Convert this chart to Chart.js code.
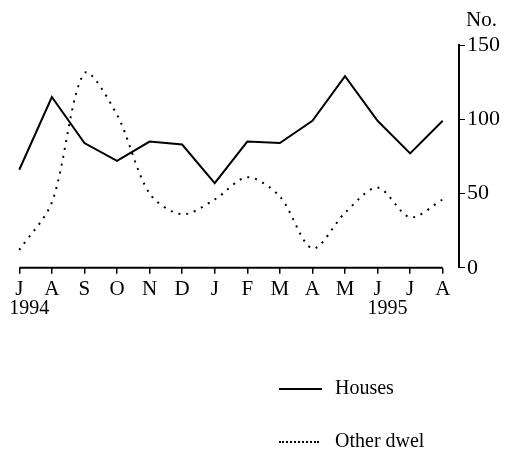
<!DOCTYPE html>
<html>
<head>
<meta charset="utf-8">
<script src="https://cdn.jsdelivr.net/npm/chart.js@4"></script>
<style>
  body { margin: 0; background: #fff; }
  #wrap { position: relative; width: 514px; height: 452px; }
  .leg { position: absolute; left: 279px; font: 20px "Liberation Serif", serif; color: #000; }
  .leg span.mark { display: inline-block; width: 43px; vertical-align: middle; margin-right: 13px; }
</style>
</head>
<body>
<div id="wrap">
  <canvas id="chart" width="514" height="452"></canvas>
  <div class="leg" style="top:376px"><span class="mark" style="border-top:2px solid #000"></span>Houses</div>
  <div class="leg" style="top:429px"><span class="mark" style="border-top:2px dotted #000;width:40px;margin-right:16px"></span>Other dwel</div>
</div>
<script>
// monthly counts, Jul 1994 - Aug 1995
const months = ['J', 'A', 'S', 'O', 'N', 'D', 'J', 'F', 'M', 'A', 'M', 'J', 'J', 'A'];
const years = ['1994', '', '', '', '', '', '', '', '', '', '', '1995', '', ''];
const houses = [66, 115, 84, 72, 85, 83, 57, 85, 84, 99, 129, 99, 77, 99];
const otherDwel = [12, 44, 131, 103, 50, 36, 46, 61, 48, 13, 37, 54, 34, 46];
const yTicks = [0, 50, 100, 150];

const serif = '"Liberation Serif", serif';

// x axis line only between first and last month, year labels, "No." title
const extras = {
    id: 'extras',
    afterDraw(chart) {
        const ctx = chart.ctx;
        const x = chart.scales.x;
        const y = chart.scales.y;
        ctx.save();
        ctx.strokeStyle = '#000';
        ctx.lineWidth = 2;
        ctx.beginPath();
        ctx.moveTo(x.getPixelForValue(0), x.top);
        ctx.lineTo(x.getPixelForValue(months.length - 1), x.top);
        ctx.stroke();

        ctx.fillStyle = '#000';
        ctx.font = '20px ' + serif;
        ctx.textAlign = 'left';
        ctx.textBaseline = 'middle';
        years.forEach((yr, i) => {
            if (yr) ctx.fillText(yr, x.getPixelForValue(i) - 10, x.top + 41);
        });
        ctx.font = '21px ' + serif;
        ctx.fillText('No.', y.left + 7, chart.chartArea.top - 25);
        ctx.restore();
    }
};

new Chart(document.getElementById('chart'), {
    type: 'line',
    data: {
        labels: months,
        datasets: [
            {
                label: 'Houses',
                data: houses,
                borderColor: '#000',
                borderWidth: 2,
                pointRadius: 0,
                tension: 0
            },
            {
                label: 'Other dwel',
                data: otherDwel,
                borderColor: '#000',
                borderWidth: 2,
                borderDash: [2, 6],
                pointRadius: 0,
                tension: 0.3
            }
        ]
    },
    options: {
        responsive: false,
        animation: false,
        layout: { padding: { top: 45, right: 12, bottom: 147, left: 3 } },
        plugins: { legend: { display: false }, tooltip: { enabled: false } },
        scales: {
            x: {
                offset: true,
                border: { display: false },
                grid: { display: true, offset: false, drawOnChartArea: false, tickLength: 6, color: '#000', lineWidth: 1.5 },
                ticks: { color: '#000', font: { family: serif, size: 21 }, padding: 3, maxRotation: 0, autoSkip: false }
            },
            y: {
                position: 'right',
                min: 0,
                max: 150,
                afterBuildTicks: axis => { axis.ticks = yTicks.map(v => ({ value: v })); },
                border: { display: true, color: '#000', width: 2 },
                grid: { drawOnChartArea: false, tickLength: 6, color: '#000' },
                ticks: { color: '#000', font: { family: serif, size: 22 }, padding: 2 }
            }
        }
    },
    plugins: [extras]
});
</script>
</body>
</html>
